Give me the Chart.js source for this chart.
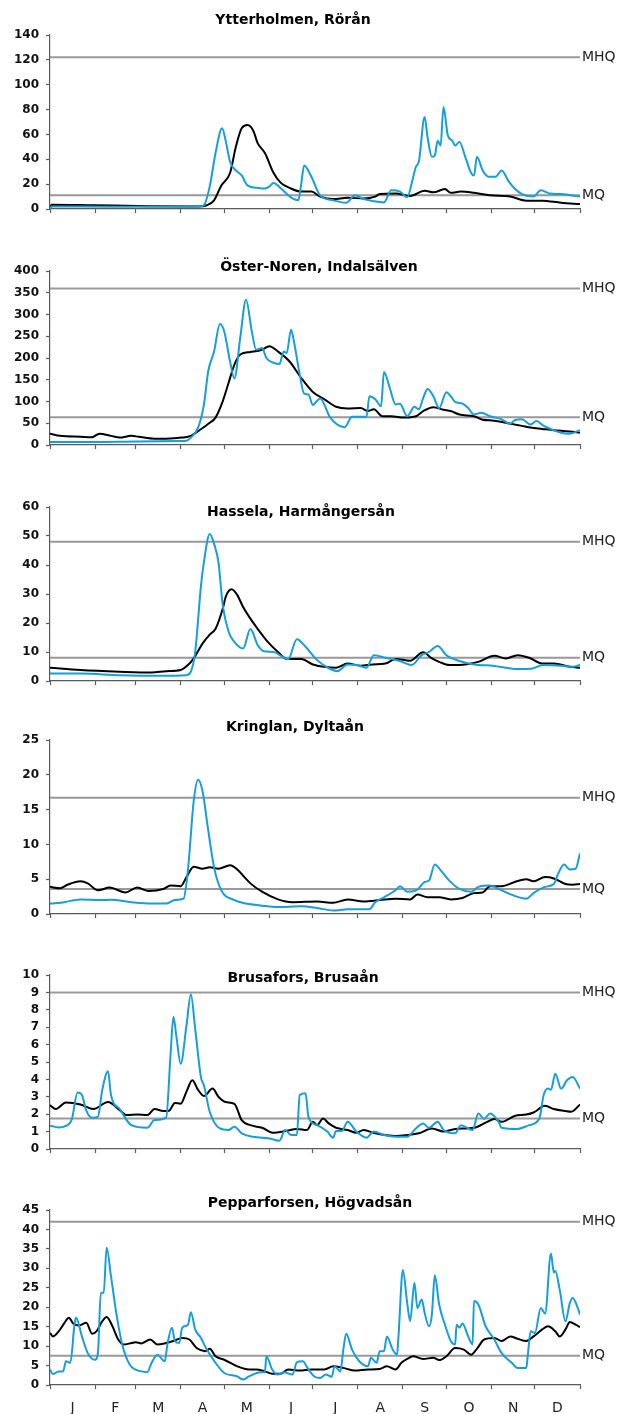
<!DOCTYPE html>
<html>
<head>
<meta charset="utf-8">
<script src="https://cdn.jsdelivr.net/npm/chart.js@4.4.1/dist/chart.umd.min.js"></script>
<style>
  body { margin: 0; background: #fff; }
  #wrap { position: relative; width: 620px; height: 1414px; }
  #wrap canvas { position: absolute; left: 0; }
</style>
</head>
<body>
<div id="wrap"></div>
<script>
// Dygnsflöden, [dag på året, m3/s] – blått = aktuellt år, svart = medel
const MONTH_LABELS = ['J', 'F', 'M', 'A', 'M', 'J', 'J', 'A', 'S', 'O', 'N', 'D'];
const MONTH_STARTS = [0, 31, 59, 90, 120, 151, 181, 212, 243, 273, 304, 334, 365];

const TITLES = ['Ytterholmen, Rörån', 'Öster-Noren, Indalsälven', 'Hassela, Harmångersån',
  'Kringlan, Dyltaån', 'Brusafors, Brusaån', 'Pepparforsen, Högvadsån'];
const Y_MAX = [140, 400, 60, 25, 10, 45];
const Y_STEP = [20, 50, 10, 5, 1, 5];
const MHQ = [122, 360, 48, 16.7, 9, 42];
const MQ = [11, 64, 8, 3.6, 1.75, 7.5];

const ytterholmenBlue = [[0,0],[1,2],[20,2],[60,1.8],[100,1.8],[104,2.2],[106,3],[110,18],[114,45],[118.5,65],[121,55],[124,38],
  [128,31],[132,27],[136,19],[143,17],[148,16.5],[151,18],[154,21],[159,16.5],[167,8.5],[171,7],[173,20],[175,35],
  [180,26],[186,11],[195,7],[204,5],[210,11],[216,8],[222,6.5],[230,5.3],[235,15],[241,14],[246,9.4],[250,25],
  [252,34],[254,38],[258,74],[260,58],[263,42],[265,43],[267,55],[269,51],[271,82],[274,59],[277,55],[279,51],
  [282,54],[286,42],[290,29],[292,27],[294,42],[298,31],[302,26],[307,26],[311,31],[316,22],[320,16.5],[325,12],
  [333,10],[338,15],[344,12.5],[352,12],[365,10]];
const ytterholmenBlack = [[0,0],[1,3.5],[30,3],[70,2.3],[102,2],[108,3],[113,7],[118,19],[124,29],[128,50],[132,65],[136,67.5],
  [140,63],[143,53],[148,45],[154,29],[159,21],[165,17],[173,14],[180,14],[186,10],[195,8],[205,9],[216,8.5],[224,10],
  [227,12],[238,12.5],[248,10.5],[258,14.7],[264,13.4],[272,16],[276,13],[283,14],[292,13],[303,11],[317,10],
  [328,6.7],[339,6.7],[352,5],[365,4]];

const osterNorenBlue = [[0,7],[30,7],[60,8],[90,9],[94,10],[97,17],[102,40],[106,93],[109,170],[113,215],[117,278],
  [120,261],[124,192],[127,153],[131,246],[135,334],[139,261],[142,219],[146,223],[149,200],[154,189],[158,186],
  [161,215],[163,211],[166,265],[168,238],[172,162],[175,118],[178,116],[181,92],[186,107],[193,63],[203,41],[208,65],
  [218,65],[220,112],[224,105],[228,89],[230,168],[234,131],[238,93],[241,95],[246,66],[251,88],[254,82],[257,108],
  [260,129],[264,112],[268,85],[273,121],[276,112],[279,99],[284,95],[288,85],[292,70],[297,74],[303,66],[311,59],
  [317,49],[320,57],[325,59],[331,47],[335,55],[340,44],[347,34],[352,28],[358,26],[365,34]];
const osterNorenBlack = [[0,26],[7,21],[21,19],[29,18],[34,26],[42,21],[48,17],[56,21],[61,19],[72,14.5],[80,14.5],
  [91,17],[97,21],[102,32],[110,51],[114,63],[119,101],[123,143],[127,185],[131,208],[138,214],[146,219],[151,227],
  [157,215],[165,192],[173,154],[181,122],[189,105],[197,88],[205,84],[214,85],[219,78],[223,82],[229,66],[235,66],
  [244,63],[252,66],[257,78],[264,87],[271,81],[276,78],[282,70],[292,66],[298,58],[306,56],[314,51],[325,44],
  [331,40],[339,37],[347,34],[358,31],[365,28]];

const hasselaBlue = [[0,2.6],[21,2.6],[48,2],[76,1.8],[94,2],[97,3.2],[100,10],[104,33],[106,41],[110,50.7],[113,47.3],
  [116,41],[119,26],[123,17],[127,13.5],[133,11.2],[138,17.9],[143,12.4],[147,10.3],[154,10],[159,8.7],[164,7.5],
  [170,14.4],[176,11.8],[184,7.2],[192,4.4],[198,3.4],[205,5.7],[211,5.5],[218,4.6],[223,8.9],[231,8],[241,6.9],
  [249,5.5],[256,8.9],[261,10],[267,12.1],[273,8.9],[282,6.9],[292,5.7],[306,5.2],[314,4.6],[322,4.1],[333,4.4],
  [339,5.5],[352,5.3],[360,4.9],[365,5.5]];
const hasselaBlack = [[0,4.6],[21,3.8],[48,3.2],[70,2.9],[80,3.4],[90,3.8],[95,5.5],[99,7.8],[105,12.9],[110,16],
  [114,18],[119,25],[121,29],[125,31.6],[129,29.6],[133,25.5],[138,21.5],[143,18],[150,13.5],[157,10],[163,7.6],
  [173,7.6],[181,5.7],[189,4.9],[197,4.6],[205,6],[214,5.3],[222,5.7],[231,6],[238,7.6],[248,7],[257,9.9],[263,7.8],
  [268,6.6],[275,5.5],[287,5.8],[295,6.6],[306,8.7],[314,7.8],[322,8.9],[330,8],[339,6],[347,6],[358,4.9],[365,4.6]];

const kringlanBlue = [[0,1.5],[10,1.7],[21,2.1],[34,2],[42,2.05],[56,1.7],[70,1.5],[80,1.5],[86,2],[92,2.2],[95,6.3],
  [99,16.3],[102,19.3],[105,17.7],[109,12],[113,6.7],[118,3.4],[127,2],[135,1.5],[146,1.2],[157,1],[173,1.1],
  [184,0.86],[195,0.5],[205,0.67],[220,0.7],[224,1.7],[230,2.4],[238,3.4],[241,4],[246,3.2],[253,3.5],[258,4.6],
  [261,4.8],[265,7.1],[269,6.3],[275,4.8],[282,3.6],[290,3.2],[295,3.9],[303,4.1],[311,3.4],[320,2.6],[328,2.2],
  [333,3],[341,3.9],[347,4.3],[350,5.8],[354,7.1],[358,6.4],[362,6.5],[365,8.7]];
const kringlanBlack = [[0,3.9],[7,3.7],[12,4.2],[21,4.7],[26,4.4],[33,3.4],[41,3.8],[52,3.1],[60,3.8],[68,3.3],[78,3.6],
  [83,4.1],[90,4],[94,5.3],[99,6.8],[105,6.5],[110,6.7],[116,6.5],[124,7],[129,6.4],[133,5.5],[138,4.4],[146,3.2],
  [157,2.1],[167,1.7],[184,1.8],[195,1.6],[205,2.1],[216,1.8],[227,2],[238,2.2],[248,2.1],[253,2.8],[260,2.4],
  [268,2.4],[276,2.1],[284,2.3],[292,3],[298,3.1],[303,4],[311,4],[320,4.6],[328,5],[333,4.7],[341,5.3],[347,5.1],
  [355,4.3],[360,4.2],[365,4.3]];

const brusaforsBlue = [[0,1.34],[6,1.24],[10,1.3],[15,1.7],[19,3.24],[22,3.1],[25,2.2],[29,1.8],[33,1.85],[36,3.4],
  [40,4.47],[42,3.1],[48,2.3],[56,1.37],[67,1.22],[72,1.66],[80,1.8],[83,5.4],[85,7.6],[87,6.5],[90,4.9],[94,7.1],
  [97,8.9],[100,6.9],[104,4.1],[106,3.66],[110,2.14],[117,1.18],[123,1.09],[127,1.28],[132,0.9],[140,0.7],[151,0.6],
  [158,0.48],[162,1.09],[166,0.8],[170,0.8],[172,3.1],[176,3.2],[178,1.85],[184,1.37],[191,1],[195,0.65],[197,1.03],
  [201,1.03],[205,1.56],[211,1],[218,0.65],[223,1],[230,0.8],[238,0.7],[246,0.7],[252,1.18],[257,1.47],[261,1.22],
  [267,1.56],[271,1.09],[279,0.9],[283,1.37],[291,1.09],[295,2.04],[299,1.72],[303,2.04],[309,1.56],[311,1.22],
  [322,1.15],[330,1.37],[337,1.75],[340,3.1],[343,3.47],[345,3.4],[348,4.33],[352,3.47],[356,3.95],[360,4.14],[365,3.47]];
const brusaforsBlack = [[0,2.52],[4,2.3],[11,2.67],[21,2.56],[30,2.3],[40,2.7],[48,2.23],[53,1.95],[60,1.98],[67,1.95],
  [72,2.3],[78,2.18],[82,2.2],[86,2.65],[90,2.6],[94,3.3],[98,3.95],[102,3.4],[106,3.05],[112,3.47],[116,3],[121,2.7],
  [127,2.6],[132,1.66],[138,1.37],[146,1.22],[154,0.93],[162,1.03],[170,1.15],[177,1.09],[181,1.56],[184,1.37],
  [188,1.75],[192,1.47],[197,1.22],[205,1.09],[211,0.93],[216,1.09],[224,0.9],[238,0.74],[246,0.8],[254,0.9],
  [263,1.18],[271,1],[279,1.15],[292,1.22],[301,1.56],[306,1.72],[311,1.56],[320,1.9],[328,1.98],[333,2.1],
  [341,2.48],[347,2.3],[355,2.18],[359,2.14],[365,2.56]];

const pepparforsenBlue = [[0,4],[2,2.8],[6,3.5],[9,3.5],[11,6.1],[14,5.7],[17,16],[18,17.3],[22,12.5],[26,8.2],[31,6.5],
  [33,8.2],[35,23.7],[37,23.7],[39,35.3],[42,28],[46,17.7],[50,10],[55,5.2],[63,3.5],[67,3.3],[70,5.7],[74,7.8],
  [79,6.1],[81,10.8],[84,14.7],[86,11.3],[89,10.8],[91,14.7],[95,15.5],[97,18.7],[100,14.3],[104,12.1],[108,9.1],
  [114,5.7],[120,3.1],[129,2.2],[133,1.4],[137,2.2],[145,3.3],[148,3.3],[149,7.4],[153,4],[157,2.7],[161,3.3],
  [167,2.7],[170,5.8],[174,6.1],[178,4],[182,2.2],[186,1.8],[190,2.7],[194,2.1],[196,4.8],[200,3.5],[202,9.1],
  [204,13.2],[208,9.1],[213,6.1],[219,4.8],[221,7],[225,5.7],[227,8.7],[230,8.7],[232,12.5],[236,9.1],[239,7.8],
  [240,12.5],[243,29.6],[246,21.1],[248,16.4],[251,26.3],[253,19.8],[256,22],[258,18.6],[261,15.1],[263,18.1],
  [265,28.2],[268,20.7],[272,15.5],[276,11.3],[279,10.4],[280,15.5],[282,14.7],[284,15.8],[288,12.5],[291,10.4],
  [292,21.6],[295,20.7],[300,15.1],[306,11.7],[311,8.2],[318,5.7],[322,4.4],[328,4.4],[329,7.4],[331,13.8],
  [334,13.4],[338,19.8],[341,18.4],[345,33.8],[347,28.9],[348,29.3],[351,24.6],[355,16.4],[358,21.1],[360,22.4],
  [363,20.3],[365,18.1]];
const pepparforsenBlack = [[0,13.4],[2,12.5],[6,13.8],[10,16],[13,17.3],[16,15.8],[20,15.3],[25,16],[29,13.2],[32,13.8],
  [36,16.4],[39,17.5],[43,15.1],[47,11.7],[51,10.4],[55,10.7],[59,11],[63,10.7],[69,11.7],[74,10.4],[80,10.8],
  [85,11.3],[91,12.1],[96,11.7],[101,9.5],[107,8.7],[110,9.3],[114,7.4],[120,6.5],[129,4.8],[137,4],[142,4],[148,3.5],
  [153,2.9],[159,2.9],[164,4],[172,3.7],[180,4],[189,4],[195,4.8],[202,4.4],[210,3.7],[219,4],[227,4.1],[232,4.8],
  [238,4],[242,5.7],[246,6.7],[250,7.4],[257,6.7],[264,7],[268,6.4],[273,7.4],[279,9.5],[285,9.1],[290,7.8],[294,9.3],
  [299,11.7],[306,12.1],[311,11.3],[317,12.5],[322,11.9],[328,11.3],[333,12.5],[339,14.3],[343,15.1],[348,13.8],
  [351,12.5],[355,14.3],[358,16.2],[362,15.5],[365,14.9]];

const BLUE_SERIES = [ytterholmenBlue, osterNorenBlue, hasselaBlue, kringlanBlue, brusaforsBlue, pepparforsenBlue];
const BLACK_SERIES = [ytterholmenBlack, osterNorenBlack, hasselaBlack, kringlanBlack, brusaforsBlack, pepparforsenBlack];

// placering av varje panel (px)
const PANEL_TOP = [0, 236, 472, 705, 940, 1175];
const TITLE_POS = [[293, 20], [319, 31], [301, 40], [295, 22], [303, 38], [310, 28]];

const BLUE = '#149fdb';
const GREY = '#999999';
const AXIS = '#5a5a5a';
const FONT = '"DejaVu Sans", sans-serif';

const panelText = {
  id: 'panelText',
  afterDraw(chart, args, opts) {
    const ctx = chart.ctx;
    const area = chart.chartArea;
    const y = chart.scales.y;
    ctx.save();
    ctx.textBaseline = 'middle';
    ctx.fillStyle = '#000';
    ctx.font = 'bold 14px ' + FONT;
    ctx.textAlign = 'center';
    ctx.fillText(opts.title, opts.x, opts.y);
    ctx.font = '14px ' + FONT;
    ctx.fillStyle = '#222';
    ctx.textAlign = 'left';
    ctx.fillText('MHQ', area.right + 2, y.getPixelForValue(opts.mhq));
    ctx.fillText('MQ', area.right + 2, y.getPixelForValue(opts.mq));
    ctx.restore();
  }
};

const toPoints = arr => arr.map(p => ({ x: p[0], y: p[1] }));
const flatLine = v => [{ x: 0, y: v }, { x: 365, y: v }];

function makePanel(i) {
  const last = i === TITLES.length - 1;
  const height = last ? 239 : 235;
  const canvas = document.createElement('canvas');
  canvas.width = 620;
  canvas.height = height;
  canvas.style.top = PANEL_TOP[i] + 'px';
  document.getElementById('wrap').appendChild(canvas);

  const scales = {
    x: {
      type: 'linear', min: 0, max: 365, position: 'bottom', weight: 0,
      afterBuildTicks: s => { s.ticks = MONTH_STARTS.map(v => ({ value: v })); },
      afterFit: s => { s.height = last ? 5 : 26; },
      // bara streck vid månadsskiftena, inga etiketter
      ticks: { autoSkip: false, maxRotation: 0, callback: () => '' },
      grid: { drawOnChartArea: false, drawTicks: true, tickLength: 4, color: AXIS, tickColor: AXIS, tickWidth: 1.2 },
      border: { color: AXIS, width: 1.2 }
    },
    y: {
      min: 0, max: Y_MAX[i],
      afterFit: s => { s.width = 50; },
      ticks: { stepSize: Y_STEP[i], padding: 7, color: '#111', font: { family: FONT, size: 12, weight: 'bold' } },
      grid: { drawOnChartArea: false, drawTicks: true, tickLength: 4, color: AXIS, tickColor: AXIS, tickWidth: 1.2 },
      border: { color: AXIS, width: 1.2 }
    }
  };
  if (last) {
    scales.months = {
      type: 'linear', axis: 'x', min: 0, max: 365, position: 'bottom', weight: 1,
      afterBuildTicks: s => {
        s.ticks = MONTH_LABELS.map((m, k) => ({ value: (MONTH_STARTS[k] + MONTH_STARTS[k + 1]) / 2 }));
      },
      afterFit: s => { s.height = 24; },
      ticks: {
        autoSkip: false, maxRotation: 0, padding: 10, color: '#222',
        font: { family: FONT, size: 14 },
        callback: (v, k) => MONTH_LABELS[k]
      },
      grid: { display: false, drawTicks: false },
      border: { display: false }
    };
  }

  new Chart(canvas, {
    type: 'line',
    data: {
      datasets: [
        { data: toPoints(BLUE_SERIES[i]), borderColor: BLUE, borderWidth: 2 },
        { data: toPoints(BLACK_SERIES[i]), borderColor: '#000', borderWidth: 2 },
        { data: flatLine(MHQ[i]), borderColor: GREY, borderWidth: 2, cubicInterpolationMode: 'default', tension: 0 },
        { data: flatLine(MQ[i]), borderColor: GREY, borderWidth: 2, cubicInterpolationMode: 'default', tension: 0 }
      ]
    },
    options: {
      responsive: false,
      animation: false,
      layout: { padding: { top: 35, right: 40, left: 0, bottom: 0 } },
      elements: {
        point: { radius: 0 },
        line: { cubicInterpolationMode: 'monotone', fill: false }
      },
      plugins: {
        legend: { display: false },
        tooltip: { enabled: false },
        panelText: { title: TITLES[i], x: TITLE_POS[i][0], y: TITLE_POS[i][1], mhq: MHQ[i], mq: MQ[i] }
      },
      scales: scales
    },
    plugins: [panelText]
  });
}

TITLES.forEach((t, i) => makePanel(i));
</script>
</body>
</html>
